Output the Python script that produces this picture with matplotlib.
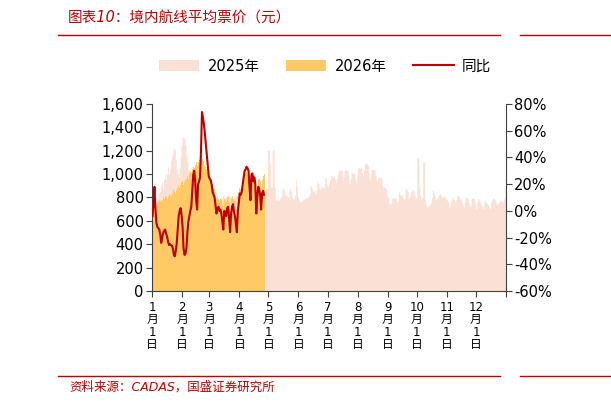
import numpy as np
import matplotlib
matplotlib.use('Agg')
import matplotlib.pyplot as plt
from matplotlib.patches import Patch
from matplotlib.lines import Line2D

plt.rcParams['font.family'] = ['DejaVu Sans', 'Noto Sans CJK SC']
plt.rcParams['axes.unicode_minus'] = False

# ── data ──────────────────────────────────────────────────────────
# 2025 daily average fare, yuan (Jan 1 .. Dec 31)
price_2025 = [
    780, 860, 820, 800, 760, 790, 830, 880, 850, 900,
    930, 880, 960, 1000, 960, 1010, 1060, 1000, 1050, 1120,
    1150, 1180, 1220, 1210, 1120, 1050, 1000, 980, 1050, 1150,
    1250, 1320, 1310, 1300, 1250, 1150, 1100, 1030, 1040, 1030,
    960, 930, 915, 880, 885, 1000, 1060, 1020, 1010, 910,
    740, 665, 665, 680, 690, 710, 725, 755, 765, 780,
    765, 780, 790, 785, 785, 780, 800, 775, 775, 775,
    790, 800, 805, 815, 790, 795, 800, 785, 785, 800,
    810, 805, 785, 780, 800, 800, 810, 820, 800, 800,
    780, 775, 780, 775, 775, 770, 770, 765, 760, 760,
    780, 790, 770, 780, 785, 790, 800, 815, 800, 815,
    830, 840, 840, 840, 850, 860, 860, 870, 880, 1206,
    1206, 1095, 890, 890, 1206, 1206, 890, 780, 780, 775,
    780, 790, 800, 820, 880, 880, 860, 820, 820, 810,
    800, 860, 880, 850, 800, 780, 790, 820, 950, 900,
    800, 780, 770, 760, 770, 780, 780, 790, 790, 800,
    800, 810, 830, 900, 880, 850, 865, 850, 830, 860,
    935, 920, 880, 870, 900, 880, 890, 880, 967, 960,
    900, 890, 920, 950, 985, 985, 975, 985, 960, 935,
    960, 1000, 1035, 1035, 1030, 1035, 950, 980, 1035, 1035,
    1030, 1035, 1000, 920, 960, 1010, 1010, 1005, 1010, 960,
    935, 1000, 1055, 1055, 1050, 1055, 1010, 985, 1040, 1085,
    1090, 1095, 1080, 1010, 950, 1000, 1040, 1040, 1035, 1040,
    990, 935, 960, 975, 975, 970, 967, 900, 880, 890,
    885, 865, 820, 800, 760, 740, 750, 790, 800, 795,
    800, 790, 760, 770, 850, 830, 820, 820, 800, 780,
    790, 880, 870, 850, 790, 800, 820, 850, 865, 860,
    820, 780, 800, 1138, 1138, 890, 820, 780, 800, 1104,
    1104, 780, 740, 720, 720, 730, 740, 760, 800, 865,
    840, 820, 780, 790, 800, 820, 830, 830, 810, 800,
    810, 820, 790, 780, 780, 760, 720, 740, 770, 800,
    790, 780, 760, 780, 820, 820, 810, 790, 780, 760,
    740, 720, 760, 800, 800, 790, 760, 740, 720, 790,
    800, 795, 770, 740, 705, 760, 790, 780, 760, 740,
    720, 705, 760, 780, 760, 750, 740, 720, 705, 760,
    780, 790, 790, 780, 760, 740, 750, 760, 770, 780,
    770, 760, 780, 800, 880,
]

# 2026 daily average fare, yuan (Jan 1 .. ~Apr 26)
price_2026 = [
    720, 740, 760, 730, 720, 740, 760, 780, 770, 760,
    780, 800, 790, 810, 800, 790, 810, 820, 830, 810,
    820, 840, 860, 850, 830, 860, 880, 900, 880, 910,
    920, 940, 910, 930, 950, 960, 980, 960, 1000, 1020,
    1010, 1040, 1060, 1050, 1080, 1100, 1070, 1100, 1120, 1140,
    1150, 1150, 1130, 1110, 1080, 1060, 1040, 1020, 990, 960,
    940, 920, 890, 880, 870, 820, 790, 800, 790, 780,
    790, 780, 740, 700, 790, 780, 770, 800, 810, 750,
    680, 790, 810, 820, 790, 770, 730, 690, 800, 850,
    880, 870, 890, 930, 970, 1000, 1010, 1020, 1000, 990,
    920, 850, 980, 1000, 960, 990, 960, 800, 880, 960,
    960, 940, 850, 950, 980, 1000,
]

# year-on-year change, % (right axis)
yoy_2026 = [
    -4, 5, 18, 2, -9, -12, -13, -14, -18, -24,
    -20, -16.5, -15, -14, -17, -19, -23, -25.5, -25, -25.5,
    -26, -28, -33, -34, -30, -24, -14, -4, 0, 2,
    -3, -12, -28, -33, -32, -28, -16, -8, -4, 0,
    3, 15, 27, 30, 22, 8, 1, 20, 22, 25,
    45, 74, 70, 65, 58, 50, 42, 34, 26, 24,
    23, 20, 14, 12, 10, 4, -2, 2, 3, 0,
    1, -2, -8, -14, 0, -2, -4, 2, 3, -6,
    -16, -2, 3, 5, -1, -4, -10, -16, 0, 6,
    13, 12, 14, 20, 25, 30, 31, 33, 32, 30,
    18, 8, 27, 28, 22, 25, 20, -2, 10, 18,
    16, 12, 1, 13, 15, 12,
]

month_start_days = [0, 31, 59, 90, 120, 151, 181, 212, 243, 273, 304, 334]
months = list(range(1, 13))
left_ticks = [0, 200, 400, 600, 800, 1000, 1200, 1400, 1600]
right_ticks = [-60, -40, -20, 0, 20, 40, 60, 80]

assert len(price_2025) == 365
assert len(price_2026) == len(yoy_2026)

PINK = "#FBE1D5"
GOLD = "#FFC965"
RED = "#C00000"
AXC = "#404040"

# ── figure ─────────────────────────────────────────────────────────
fig = plt.figure(figsize=(6.11, 4.08), dpi=100)
ax = fig.add_axes([0.2488, 0.2868, 0.5794, 0.4583])

p25 = np.array(price_2025, dtype=float)
p26 = np.array(price_2026, dtype=float)
x25 = np.arange(len(p25) + 1)
x26 = np.arange(len(p26) + 1)
ax.fill_between(x25, np.append(p25, p25[-1]), step="post", color=PINK, lw=0)
ax.fill_between(x26, np.append(p26, p26[-1]), step="post", color=GOLD, lw=0)

ax.set_xlim(0, 365)
ax.set_ylim(0, 1600)
ax.set_yticks(left_ticks)
ax.set_yticklabels([f"{v:,}" for v in left_ticks], fontsize=10.5)
ax.set_xticks(month_start_days + [365])
ax.set_xticklabels([f"{m}\n月\n1\n日" for m in months] + [""],
                   fontsize=8.5, linespacing=0.95, va="top")
ax.tick_params(axis="x", length=4, color=AXC, pad=3)
ax.tick_params(axis="y", length=4, color=AXC, pad=2)
for side in ("top", "right"):
    ax.spines[side].set_visible(False)
for side in ("left", "bottom"):
    ax.spines[side].set_color(AXC)

ax2 = ax.twinx()
ax2.plot(np.arange(len(yoy_2026)) + 0.5, yoy_2026, color=RED, lw=1.5)
ax2.set_ylim(-60, 80)
ax2.set_yticks(right_ticks)
ax2.set_yticklabels([f"{v}%" for v in right_ticks], fontsize=10.5)
ax2.tick_params(axis="y", length=4, color=AXC, pad=2)
for side in ("top", "left", "bottom"):
    ax2.spines[side].set_visible(False)
ax2.spines["right"].set_color(AXC)

# legend
handles = [Patch(color=PINK, lw=0), Patch(color=GOLD, lw=0),
           Line2D([], [], color=RED, lw=1.5)]
fig.legend(handles, ["2025年", "2026年", "同比"], loc="center",
           bbox_to_anchor=(0.532, 0.838), ncol=3, frameon=False,
           fontsize=10.5, handlelength=2.75, handleheight=0.7,
           handletextpad=0.55, columnspacing=1.85)

# header / footer
fig.text(0.111, 0.958, "图表10：境内航线平均票价（元）", color=RED,
         fontsize=10.5, style="italic", va="center", ha="left")
fig.add_artist(Line2D([0.095, 0.818], [0.914, 0.914], color=RED, lw=1.0))
fig.add_artist(Line2D([0.851, 1.0], [0.914, 0.914], color=RED, lw=1.0))
fig.add_artist(Line2D([0.095, 0.818], [0.0784, 0.0784], color=RED, lw=1.0))
fig.add_artist(Line2D([0.851, 1.0], [0.0784, 0.0784], color=RED, lw=1.0))
fig.text(0.114, 0.052, "资料来源：CADAS，国盛证券研究所", color=RED,
         fontsize=9, style="italic", va="center", ha="left")

fig.savefig("out.png", dpi=100)
